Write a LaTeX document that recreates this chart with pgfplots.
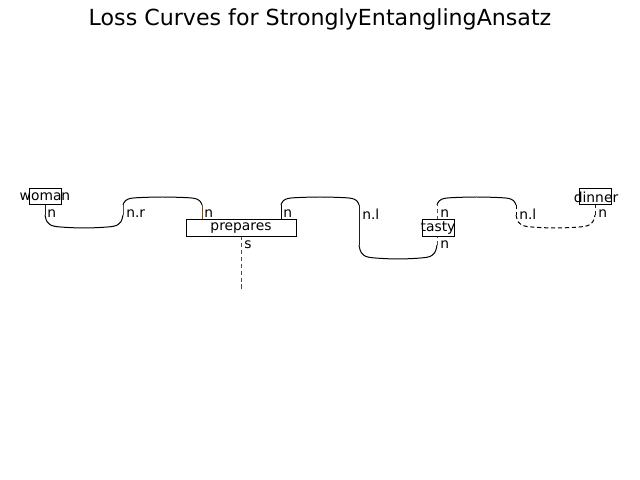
\documentclass[border=0pt]{standalone}
\usepackage{pgfplots}
\pgfplotsset{compat=1.18}
\usepackage{fontspec}
\setmainfont{DejaVu Sans}
\begin{document}
\begin{tikzpicture}
\begin{axis}[width=6.4in,height=4.8in,scale only axis,xmin=0,xmax=640,ymin=0,ymax=480,y dir=reverse,hide axis,clip=false]
\path[use as bounding box] (axis cs:0,0) rectangle (axis cs:640,480);
\pgfplotsset{every axis plot/.append style={black,line width=0.72pt,no markers}}
% straight wires
\addplot coordinates {(45,205)(45,215)};
\addplot coordinates {(123,215)(123,205)};
\addplot coordinates {(202,205)(202,220)};
\addplot coordinates {(281,220)(281,205)};
\addplot coordinates {(359,205)(359,245)};
\addplot coordinates {(437,245)(437,236)};
\addplot coordinates {(437,220)(437,205)};
\addplot coordinates {(516,205)(516,215)};
\addplot coordinates {(595,215)(595,205)};
\addplot coordinates {(241,236)(241,290)};
% curves
\addplot+[smooth,black] coordinates {(45,215)(47.3,222)(55.1,226.4)(84,228)(112.9,226.4)(120.7,222)(123,215)};
\addplot+[smooth,black] coordinates {(123,205)(125.4,200.7)(133.3,198)(162.5,197)(191.7,198)(199.6,200.7)(202,205)};
\addplot+[smooth,black] coordinates {(281,205)(283.3,200.7)(291.1,198)(320,197)(348.9,198)(356.7,200.7)(359,205)};
\addplot+[smooth,black] coordinates {(359,245)(361.3,252.6)(369.1,257.3)(398,259)(426.9,257.3)(434.7,252.6)(437,245)};
\addplot+[smooth,black] coordinates {(437,205)(439.4,200.7)(447.3,198)(476.5,197)(505.7,198)(513.6,200.7)(516,205)};
\addplot+[smooth,black] coordinates {(516,215)(518.4,222)(526.3,226.4)(555.5,228)(584.7,226.4)(592.6,222)(595,215)};
% boxes
\addplot[fill=white] coordinates {(29,189)(61,189)(61,205)(29,205)(29,189)};
\addplot[fill=white] coordinates {(186,220)(296,220)(296,236)(186,236)(186,220)};
\addplot[fill=white] coordinates {(422,220)(454,220)(454,236)(422,236)(422,220)};
\addplot[fill=white] coordinates {(579,189)(611,189)(611,205)(579,205)(579,189)};
\node[font=\fontsize{10}{12}\selectfont] at (axis cs:45,197) {woman};
\node[font=\fontsize{10}{12}\selectfont] at (axis cs:241,228) {prepares};
\node[font=\fontsize{10}{12}\selectfont] at (axis cs:438,228) {tasty};
\node[font=\fontsize{10}{12}\selectfont] at (axis cs:596,197) {dinner};
\tikzset{lab/.style={font=\fontsize{10}{12}\selectfont,anchor=west,inner sep=0pt}}
\node[lab] at (axis cs:47,214) {n};
\node[lab] at (axis cs:126,214) {n.r};
\node[lab] at (axis cs:204,214) {n};
\node[lab] at (axis cs:283,214) {n};
\node[lab] at (axis cs:362,214) {n.l};
\node[lab] at (axis cs:440,214) {n};
\node[lab] at (axis cs:519,214) {n.l};
\node[lab] at (axis cs:598,214) {n};
\node[lab] at (axis cs:244,245) {s};
\node[lab] at (axis cs:440,245) {n};
\node[font=\fontsize{16}{19}\selectfont] at (axis cs:320,19) {Loss Curves for StronglyEntanglingAnsatz};
\end{axis}
\end{tikzpicture}
\end{document}
